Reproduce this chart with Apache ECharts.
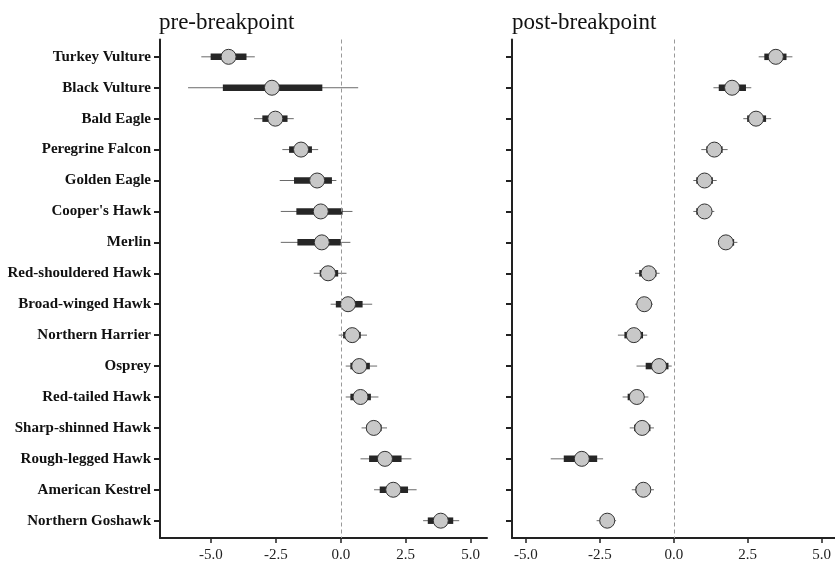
<!DOCTYPE html>
<html>
<head>
<meta charset="utf-8">
<script src="https://cdn.jsdelivr.net/npm/echarts@6/dist/echarts.min.js"></script>
<style>
  html, body { margin: 0; padding: 0; background: #ffffff; }
  #chart { width: 835px; height: 569px; }
</style>
</head>
<body>
<div id="chart"></div>
<script>
const categories = ["Turkey Vulture","Black Vulture","Bald Eagle","Peregrine Falcon","Golden Eagle","Cooper's Hawk","Merlin","Red-shouldered Hawk","Broad-winged Hawk","Northern Harrier","Osprey","Red-tailed Hawk","Sharp-shinned Hawk","Rough-legged Hawk","American Kestrel","Northern Goshawk"];
const panelTitles = ["pre-breakpoint", "post-breakpoint"];
const xTicks = [-5, -2.5, 0, 2.5, 5];

// pre-breakpoint estimates and intervals
const prePoint  = [-4.32, -2.65, -2.52, -1.53, -0.91, -0.77, -0.73, -0.49, 0.28, 0.44, 0.71, 0.76, 1.27, 1.70, 2.02, 3.85];
const preLow95  = [-5.37, -5.88, -3.34, -2.25, -2.35, -2.31, -2.31, -1.04, -0.39, -0.08, 0.19, 0.19, 0.80, 0.76, 1.28, 3.17];
const preHigh95 = [-3.31, 0.67, -1.81, -0.87, -0.17, 0.45, 0.37, 0.22, 1.21, 1.01, 1.40, 1.45, 1.78, 2.72, 2.92, 4.56];
const preLow50  = [-5.01, -4.54, -3.02, -1.99, -1.80, -1.71, -1.67, -0.81, -0.19, 0.09, 0.37, 0.37, 0.99, 1.09, 1.50, 3.35];
const preHigh50 = [-3.63, -0.71, -2.05, -1.11, -0.34, 0.07, 0.00, -0.10, 0.84, 0.77, 1.12, 1.16, 1.57, 2.34, 2.59, 4.33];

// post-breakpoint estimates and intervals
const postPoint  = [3.45, 1.97, 2.78, 1.37, 1.04, 1.04, 1.76, -0.85, -1.00, -1.35, -0.50, -1.25, -1.07, -3.11, -1.03, -2.25];
const postLow95  = [2.87, 1.34, 2.35, 0.93, 0.66, 0.66, 1.50, -1.31, -1.31, -1.89, -1.26, -1.73, -1.49, -4.16, -1.42, -2.61];
const postHigh95 = [4.01, 2.62, 3.29, 1.82, 1.45, 1.37, 2.15, -0.48, -0.71, -0.90, -0.07, -0.86, -0.67, -2.39, -0.67, -1.95];
const postLow50  = [3.06, 1.52, 2.48, 1.10, 0.76, 0.76, 1.59, -1.17, -1.23, -1.67, -0.95, -1.56, -1.34, -3.72, -1.29, -2.50];
const postHigh50 = [3.81, 2.44, 3.12, 1.65, 1.32, 1.26, 2.04, -0.59, -0.79, -1.04, -0.18, -1.01, -0.79, -2.59, -0.79, -2.04];

const rowIdx = categories.map((_, i) => i);
const serif = "'Liberation Serif', 'Times New Roman', serif";

function intervalData(lo95, hi95, lo50, hi50) {
  return rowIdx.map(i => [i, lo95[i], hi95[i], lo50[i], hi50[i]]);
}
function pointData(pts) {
  return rowIdx.map(i => [pts[i], i]);
}
function renderInterval(params, api) {
  const idx = api.value(0);
  const a = api.coord([api.value(1), idx]);
  const b = api.coord([api.value(2), idx]);
  const c = api.coord([api.value(3), idx]);
  const d = api.coord([api.value(4), idx]);
  return {
    type: 'group',
    children: [
      { type: 'line', shape: { x1: a[0], y1: a[1], x2: b[0], y2: b[1] }, style: { stroke: '#6a6a6a', lineWidth: 1 } },
      { type: 'line', shape: { x1: c[0], y1: c[1], x2: d[0], y2: d[1] }, style: { stroke: '#262626', lineWidth: 6.5 } }
    ]
  };
}

function xAxisDef(gridIndex, min, max) {
  return {
    type: 'value', gridIndex, min, max,
    splitLine: { show: false },
    axisLine: { show: true, onZero: false, lineStyle: { color: '#222', width: 2 } },
    axisTick: { show: true, length: 5, customValues: xTicks, lineStyle: { color: '#222', width: 1.5 } },
    axisLabel: { customValues: xTicks, margin: 10, fontFamily: serif, fontSize: 15, color: '#222',
      formatter: v => v.toFixed(1) }
  };
}
function yAxisDef(gridIndex, showLabels) {
  return {
    type: 'value', gridIndex, inverse: true, min: -0.56, max: 15.56,
    splitLine: { show: false },
    axisLine: { show: true, onZero: false, lineStyle: { color: '#222', width: 2 } },
    axisTick: { show: true, length: 6, customValues: rowIdx, lineStyle: { color: '#222', width: 2 } },
    axisLabel: { show: showLabels, customValues: rowIdx, margin: 9, fontFamily: serif, fontSize: 15,
      fontWeight: 'bold', color: '#111', formatter: v => categories[Math.round(v)] }
  };
}
const zeroLine = {
  silent: true, symbol: 'none', label: { show: false },
  lineStyle: { color: '#999', type: [4, 3], width: 1 },
  data: [{ xAxis: 0 }]
};

const chart = echarts.init(document.getElementById('chart'), null, { renderer: 'canvas' });
chart.setOption({
  backgroundColor: '#ffffff',
  animation: false,
  title: [
    { text: panelTitles[0], left: 159, top: 11, padding: 0, textStyle: { fontFamily: serif, fontSize: 23, fontWeight: 'normal', color: '#111' } },
    { text: panelTitles[1], left: 512, top: 11, padding: 0, textStyle: { fontFamily: serif, fontSize: 23, fontWeight: 'normal', color: '#111' } }
  ],
  grid: [
    { left: 160, top: 39.5, width: 327, height: 498.5 },
    { left: 512, top: 39.5, width: 328, height: 498.5 }
  ],
  xAxis: [ xAxisDef(0, -6.96, 5.63), xAxisDef(1, -5.47, 5.45) ],
  yAxis: [ yAxisDef(0, true), yAxisDef(1, false) ],
  series: [
    { type: 'custom', xAxisIndex: 0, yAxisIndex: 0, renderItem: renderInterval,
      encode: { x: [1, 2, 3, 4], y: 0 }, data: intervalData(preLow95, preHigh95, preLow50, preHigh50), z: 2 },
    { type: 'scatter', xAxisIndex: 0, yAxisIndex: 0, symbol: 'circle', symbolSize: 15,
      itemStyle: { color: '#c8c8c8', borderColor: '#333', borderWidth: 1, opacity: 1 },
      data: pointData(prePoint), markLine: zeroLine, z: 3 },
    { type: 'custom', xAxisIndex: 1, yAxisIndex: 1, renderItem: renderInterval,
      encode: { x: [1, 2, 3, 4], y: 0 }, data: intervalData(postLow95, postHigh95, postLow50, postHigh50), z: 2 },
    { type: 'scatter', xAxisIndex: 1, yAxisIndex: 1, symbol: 'circle', symbolSize: 15,
      itemStyle: { color: '#c8c8c8', borderColor: '#333', borderWidth: 1, opacity: 1 },
      data: pointData(postPoint), markLine: zeroLine, z: 3 }
  ]
});
</script>
</body>
</html>
